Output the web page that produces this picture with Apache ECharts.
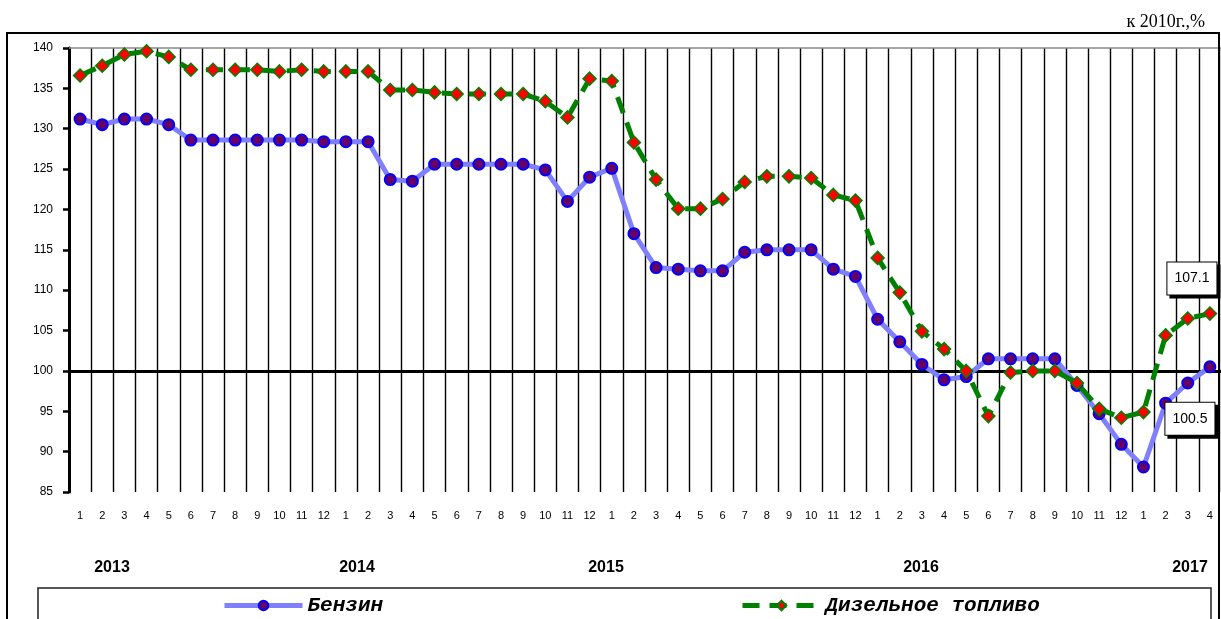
<!DOCTYPE html>
<html><head><meta charset="utf-8">
<script src="https://cdn.jsdelivr.net/npm/echarts@6/dist/echarts.min.js"></script>
<style>html,body{margin:0;padding:0;background:#fff}#c{width:1221px;height:619px}</style>
</head><body><div id="c"></div>
<script>
// ---- data ----
const months = ['1','2','3','4','5','6','7','8','9','10','11','12',
                '1','2','3','4','5','6','7','8','9','10','11','12',
                '1','2','3','4','5','6','7','8','9','10','11','12',
                '1','2','3','4','5','6','7','8','9','10','11','12',
                '1','2','3','4'];
const years = ['2013','2014','2015','2016','2017'];
const seriesNames = ['Бензин','Дизельное топливо'];
const gasoline = [
  131.2,130.5,131.2,131.2,130.5,128.6,128.6,128.6,128.6,128.6,128.6,128.4,
  128.4,128.4,123.7,123.5,125.6,125.6,125.6,125.6,125.6,124.9,121.0,124.0,
  125.1,117.0,112.8,112.6,112.4,112.4,114.7,115.0,115.0,115.0,112.6,111.7,
  106.4,103.6,100.8,98.9,99.3,101.5,101.5,101.5,101.5,98.2,94.7,90.9,
  88.1,96.0,98.5,100.5];
const diesel = [
  136.6,137.8,139.2,139.6,138.9,137.3,137.3,137.3,137.3,137.1,137.3,137.1,
  137.1,137.1,134.8,134.8,134.5,134.3,134.3,134.3,134.3,133.4,131.4,136.2,
  135.9,128.3,123.7,120.1,120.1,121.3,123.4,124.1,124.1,123.9,121.8,121.1,
  114.0,109.7,104.9,102.7,100.0,94.4,99.8,100.0,100.0,98.5,95.3,94.2,
  94.9,104.4,106.5,107.1];
const unitText = 'к 2010г.,%';
const yMin = 85, yMax = 140, yStep = 5, baseLine = 100;

// ---- layout / styles ----
const yearX = [112, 357, 606, 921, 1190];
function lastLabel(offset){
  return {show:true, position:'inside', offset:offset, formatter:'{c}',
    color:'#000', fontFamily:'Arial', fontSize:14,
    backgroundColor:'#fff', borderColor:'#000', borderWidth:1,
    padding:[9,7,9,7], shadowColor:'#000', shadowOffsetX:3, shadowOffsetY:3, shadowBlur:0};
}
function withLast(arr, offset){
  return arr.map((v,i)=> i===arr.length-1 ? {value:v, label:lastLabel(offset)} : v);
}
const legendText = {fontFamily:'Liberation Mono', fontWeight:'bold', fontStyle:'italic', fontSize:21, color:'#000'};

const chart = echarts.init(document.getElementById('c'));
chart.setOption({
  animation:false,
  backgroundColor:'#fff',
  grid:{left:69, right:0, top:48, bottom:127, containLabel:false},
  xAxis:{type:'category', data:months, boundaryGap:true,
    axisLine:{show:false}, axisTick:{show:false},
    axisLabel:{interval:0, margin:18, fontFamily:'Arial', fontSize:11, color:'#000', hideOverlap:false},
    splitLine:{show:true, interval:0, lineStyle:{color:'#000', width:1.4}}},
  yAxis:{type:'value', min:yMin, max:yMax, interval:yStep,
    axisLine:{show:true, lineStyle:{color:'#000', width:3}},
    axisTick:{show:true, inside:false, length:6, lineStyle:{color:'#000', width:2.5}},
    axisLabel:{margin:16, fontFamily:'Arial', fontSize:12, color:'#000'},
    splitLine:{show:false}},
  legend:[
    {data:[seriesNames[0]], left:217, top:590, itemWidth:78, itemHeight:12, itemGap:5,
      lineStyle:{width:5}, textStyle:legendText},
    {data:[seriesNames[1]], left:735, top:590, itemWidth:78, itemHeight:12, itemGap:5,
      lineStyle:{width:5}, textStyle:legendText}
  ],
  series:[
    {name:seriesNames[0], type:'line', data:withLast(gasoline,[-20,52]), z:3,
      symbol:'circle', symbolSize:11,
      lineStyle:{color:'#8080FF', width:5},
      itemStyle:{color:'#660066', borderColor:'#0000FF', borderWidth:2},
      markLine:{silent:true, symbol:'none', label:{show:false}, animation:false, z:1,
        data:[{yAxis:baseLine, lineStyle:{color:'#000', width:3, type:'solid'}},
              {yAxis:yMax, lineStyle:{color:'#888', width:1.5, type:'solid'}}]}},
    {name:seriesNames[1], type:'line', data:withLast(diesel,[-18,-35]), z:4,
      symbol:'diamond', symbolSize:[13,13],
      lineStyle:{color:'#008000', width:5, type:[17,10]},
      itemStyle:{color:'#FF0000', borderColor:'#008000', borderWidth:1.5}}
  ],
  graphic:[
    {type:'rect', z:100, silent:true, shape:{x:7, y:33, width:1212, height:600},
      style:{fill:'none', stroke:'#000', lineWidth:2}},
    {type:'rect', z:100, silent:true, shape:{x:38, y:588, width:1173, height:40},
      style:{fill:'none', stroke:'#222', lineWidth:1.5}},
    {type:'text', z:100, x:1205, y:22, style:{text:unitText, fontFamily:'Liberation Serif', fontSize:18,
      fill:'#000', align:'right', verticalAlign:'middle', textAlign:'right', textVerticalAlign:'middle'}},
  ].concat(years.map((t,i)=>({type:'text', z:100, x:yearX[i], y:568,
      style:{text:t, fontFamily:'Arial', fontWeight:'bold', fontSize:16, fill:'#000',
        align:'center', verticalAlign:'middle', textAlign:'center', textVerticalAlign:'middle'}})))
});
</script></body></html>
